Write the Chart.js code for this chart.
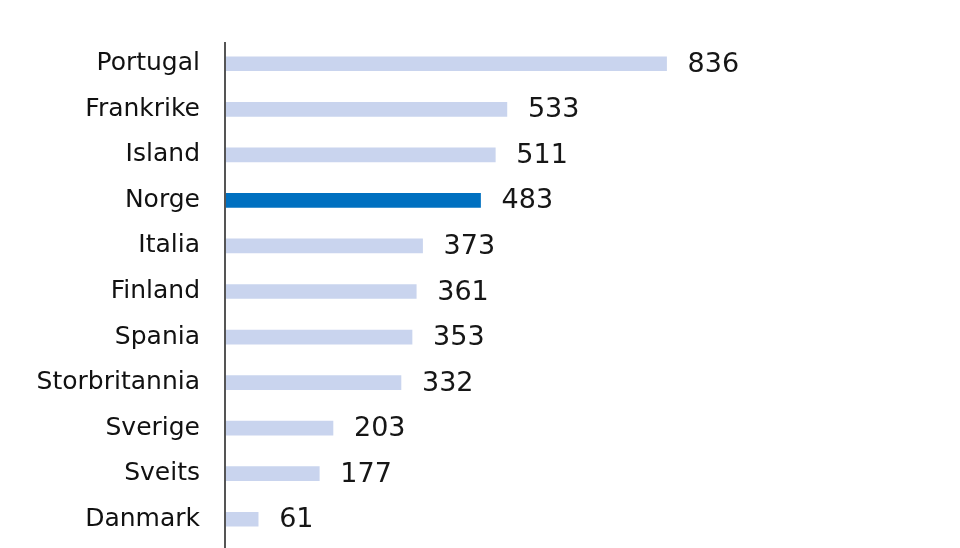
<!DOCTYPE html>
<html>
<head>
<meta charset="utf-8">
<script src="https://cdn.jsdelivr.net/npm/chart.js@4/dist/chart.umd.min.js"></script>
<style>
  html, body { margin: 0; padding: 0; background: #fff; overflow: hidden; }
  #ramme { width: 960px; height: 548px; overflow: hidden; }
  #boks { width: 960px; height: 583px; position: relative; }
</style>
</head>
<body>
<div id="ramme"><div id="boks"><canvas id="grafikk"></canvas></div></div>
<script>
// Data lest fra figuren
const land = ["Portugal", "Frankrike", "Island", "Norge", "Italia", "Finland", "Spania", "Storbritannia", "Sverige", "Sveits", "Danmark"];
const verdier = [836, 533, 511, 483, 373, 361, 353, 332, 203, 177, 61];
const uthevet = "Norge";

const lysBla = "#c9d4ee";
const morkBla = "#0070c0";

// Tall ved enden av hver stolpe
const verdiEtiketter = {
    id: "verdiEtiketter",
    afterDatasetsDraw(chart) {
        const ctx = chart.ctx;
        const meta = chart.getDatasetMeta(0);
        ctx.save();
        ctx.font = "27px 'DejaVu Sans'";
        ctx.fillStyle = "#161616";
        ctx.textAlign = "left";
        ctx.textBaseline = "middle";
        meta.data.forEach((bar, i) => {
            ctx.fillText(String(verdier[i]), bar.x + 21, bar.y + 1);
        });
        ctx.restore();
    }
};

// Loddrett akselinje helt ned til bunnen
const akseLinje = {
    id: "akseLinje",
    afterDraw(chart) {
        const ctx = chart.ctx;
        const x = chart.chartArea.left - 1;
        ctx.save();
        ctx.strokeStyle = "#555";
        ctx.lineWidth = 2;
        ctx.beginPath();
        ctx.moveTo(x, chart.chartArea.top + 1);
        ctx.lineTo(x, chart.height);
        ctx.stroke();
        ctx.restore();
    }
};

new Chart(document.getElementById("grafikk"), {
    type: "bar",
    data: {
        labels: land,
        datasets: [{
            data: verdier,
            backgroundColor: land.map(l => l === uthevet ? morkBla : lysBla),
            barThickness: 14,
            borderWidth: 0
        }]
    },
    options: {
        indexAxis: "y",
        responsive: true,
        maintainAspectRatio: false,
        animation: false,
        layout: { padding: { top: 37, bottom: 6, right: 207, left: 0 } },
        plugins: {
            legend: { display: false },
            tooltip: { enabled: false }
        },
        scales: {
            x: {
                display: false,
                min: 0,
                max: 1000
            },
            y: {
                afterFit(axis) { axis.width = 226; },
                grid: { display: false, drawTicks: false },
                border: { display: false },
                ticks: {
                    color: "#111",
                    padding: 26,
                    font: { family: "DejaVu Sans", size: 25 }
                }
            }
        }
    },
    plugins: [verdiEtiketter, akseLinje]
});
</script>
</body>
</html>
